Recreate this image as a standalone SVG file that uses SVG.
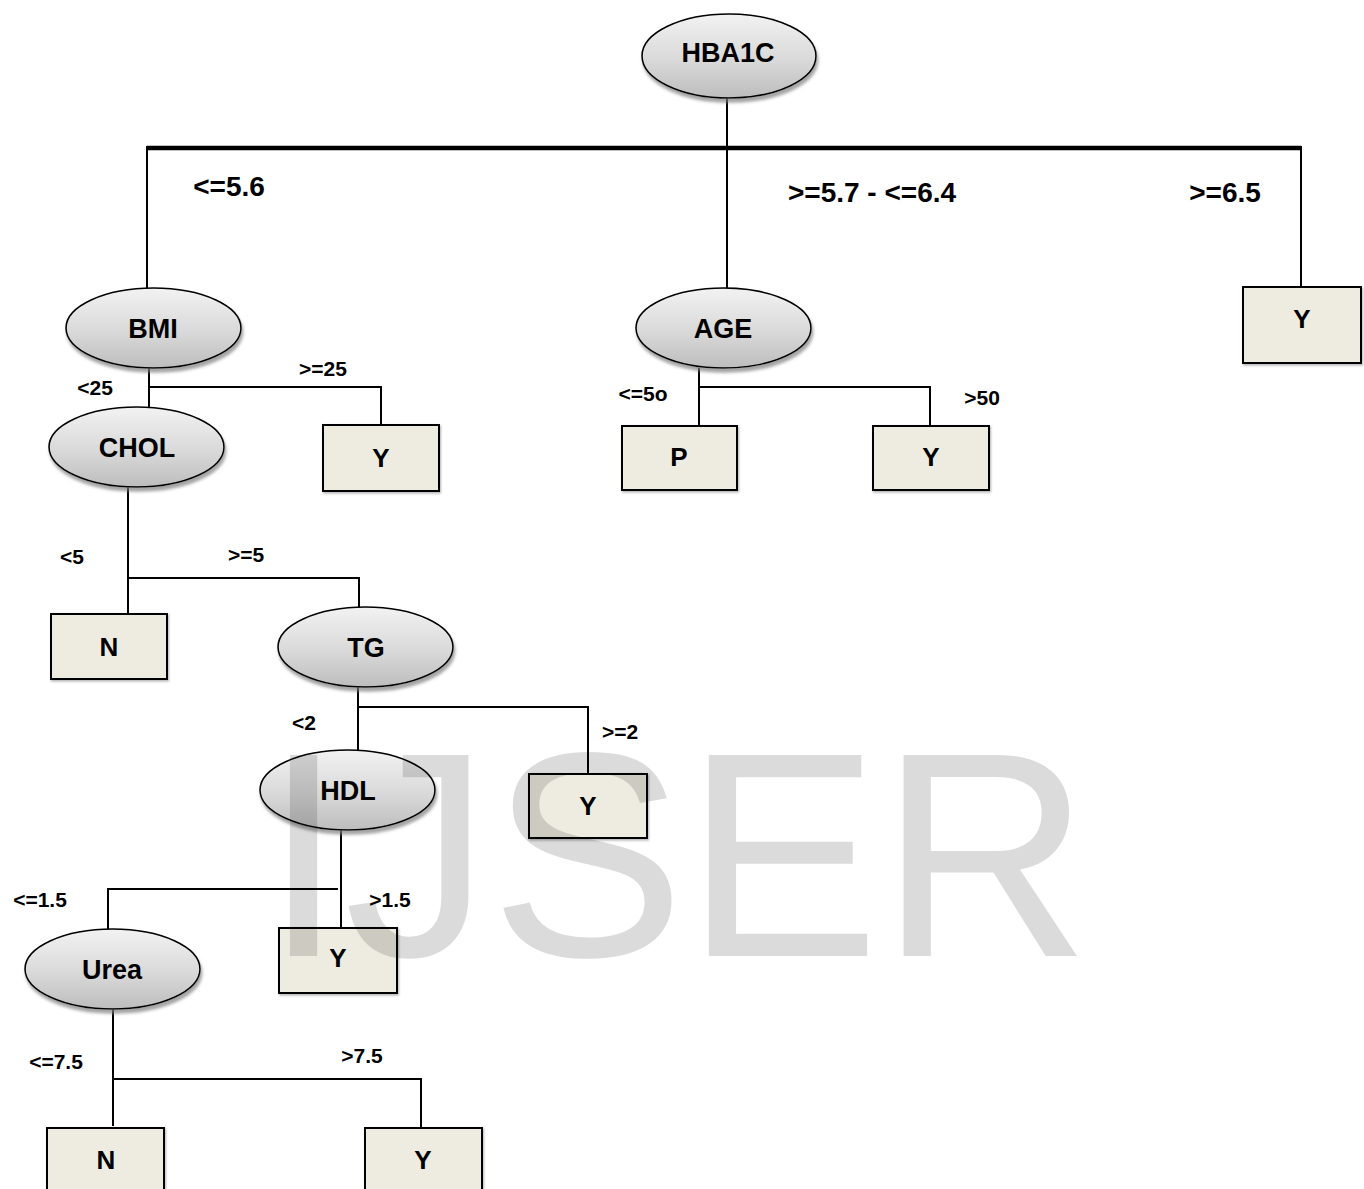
<svg xmlns="http://www.w3.org/2000/svg" width="1364" height="1189" viewBox="0 0 1364 1189">
<defs>
<linearGradient id="gEll" x1="0" y1="0" x2="0" y2="1">
<stop offset="0" stop-color="#f2f2f2"/>
<stop offset="0.55" stop-color="#d9d9d9"/>
<stop offset="1" stop-color="#bdbdbd"/>
</linearGradient>
<filter id="shE" x="-20%" y="-20%" width="140%" height="150%">
<feDropShadow dx="1.5" dy="4" stdDeviation="1.8" flood-color="#7f7f7f" flood-opacity="0.7"/>
</filter>
<filter id="shB" x="-10%" y="-10%" width="120%" height="130%">
<feDropShadow dx="1" dy="1.5" stdDeviation="0.8" flood-color="#7f7f7f" flood-opacity="0.6"/>
</filter>
</defs>
<style>
.ell{fill:url(#gEll);stroke:#000;stroke-width:1.6;filter:url(#shE)}
.box{fill:#eeece1;stroke:#000;stroke-width:2;filter:url(#shB)}
.nt{font-family:"Liberation Sans",Arial,sans-serif;font-weight:bold;font-size:27px;fill:#000;text-anchor:middle}
.bt{font-family:"Liberation Sans",Arial,sans-serif;font-weight:bold;font-size:26px;fill:#000;text-anchor:middle}
.lb{font-family:"Liberation Sans",Arial,sans-serif;font-weight:bold;font-size:21px;fill:#000;text-anchor:middle}
.lt{font-family:"Liberation Sans",Arial,sans-serif;font-weight:bold;font-size:28px;fill:#000;text-anchor:middle}
.ln{fill:none;stroke:#000;stroke-width:2}
.wm{font-family:"Liberation Sans",Arial,sans-serif;font-size:292px;fill:#000;fill-opacity:0.14}
</style>
<rect width="1364" height="1189" fill="#fff"/>

<g id="connectors">
<path class="ln" d="M727 98 V288"/>
<path d="M147 148 H1301" stroke="#000" stroke-width="4.5" fill="none"/>
<path class="ln" d="M147 146 V288"/>
<path class="ln" d="M1301 146 V287"/>
<path class="ln" d="M149 368 V407 M149 387 H381 V425"/>
<path class="ln" d="M699 368 V426 M699 387 H930 V426"/>
<path class="ln" d="M128 487 V613 M128 578 H359 V607"/>
<path class="ln" d="M358 687 V750 M358 707 H588 V774"/>
<path class="ln" d="M341 830 V928 M108 929 V889 H338"/>
<path class="ln" d="M113 1009 V1126 M113 1079 H421 V1128"/>
</g>

<g id="edge-labels">
<text class="lt" x="229" y="196">&lt;=5.6</text>
<text class="lt" x="872" y="202">&gt;=5.7 - &lt;=6.4</text>
<text class="lt" x="1225" y="202">&gt;=6.5</text>
<text class="lb" x="95" y="395">&lt;25</text>
<text class="lb" x="323" y="376">&gt;=25</text>
<text class="lb" x="643" y="401">&lt;=5o</text>
<text class="lb" x="982" y="405">&gt;50</text>
<text class="lb" x="72" y="564">&lt;5</text>
<text class="lb" x="246" y="562">&gt;=5</text>
<text class="lb" x="304" y="730">&lt;2</text>
<text class="lb" x="620" y="739">&gt;=2</text>
<text class="lb" x="40" y="907">&lt;=1.5</text>
<text class="lb" x="390" y="907">&gt;1.5</text>
<text class="lb" x="56" y="1069">&lt;=7.5</text>
<text class="lb" x="362" y="1063">&gt;7.5</text>
</g>

<g id="n-hba1c"><ellipse class="ell" cx="729" cy="56" rx="87" ry="42"/><text class="nt" x="728" y="62">HBA1C</text></g>
<g id="n-bmi"><ellipse class="ell" cx="153.5" cy="328" rx="87.5" ry="40"/><text class="nt" x="153" y="338">BMI</text></g>
<g id="n-age"><ellipse class="ell" cx="723.5" cy="328" rx="87.5" ry="40"/><text class="nt" x="723" y="338">AGE</text></g>
<g id="n-chol"><ellipse class="ell" cx="136.5" cy="447" rx="87.5" ry="40"/><text class="nt" x="137" y="457">CHOL</text></g>
<g id="n-tg"><ellipse class="ell" cx="365.5" cy="647" rx="87.5" ry="40"/><text class="nt" x="366" y="657">TG</text></g>
<g id="n-hdl"><ellipse class="ell" cx="347.5" cy="790" rx="87.5" ry="40"/><text class="nt" x="348" y="800">HDL</text></g>
<g id="n-urea"><ellipse class="ell" cx="112.5" cy="969" rx="87.5" ry="40"/><text class="nt" x="112" y="979">Urea</text></g>

<g id="leaf-y-right"><rect class="box" x="1243" y="287" width="118" height="76"/><text class="bt" x="1302" y="328">Y</text></g>
<g id="leaf-y-bmi"><rect class="box" x="323" y="425" width="116" height="66"/><text class="bt" x="381" y="467">Y</text></g>
<g id="leaf-p-age"><rect class="box" x="622" y="426" width="115" height="64"/><text class="bt" x="679" y="466">P</text></g>
<g id="leaf-y-age"><rect class="box" x="873" y="426" width="116" height="64"/><text class="bt" x="931" y="466">Y</text></g>
<g id="leaf-n-chol"><rect class="box" x="51" y="614" width="116" height="65"/><text class="bt" x="109" y="656">N</text></g>
<g id="leaf-y-tg"><rect class="box" x="529" y="774" width="118" height="64"/><text class="bt" x="588" y="815">Y</text></g>
<g id="leaf-y-hdl"><rect class="box" x="279" y="928" width="118" height="65"/><text class="bt" x="338" y="967">Y</text></g>
<g id="leaf-n-urea"><rect class="box" x="47" y="1128" width="117" height="80"/><text class="bt" x="106" y="1169">N</text></g>
<g id="leaf-y-urea"><rect class="box" x="365" y="1128" width="117" height="80"/><text class="bt" x="423" y="1169">Y</text></g>

<text class="wm" x="263" y="956">IJSER</text>
</svg>
